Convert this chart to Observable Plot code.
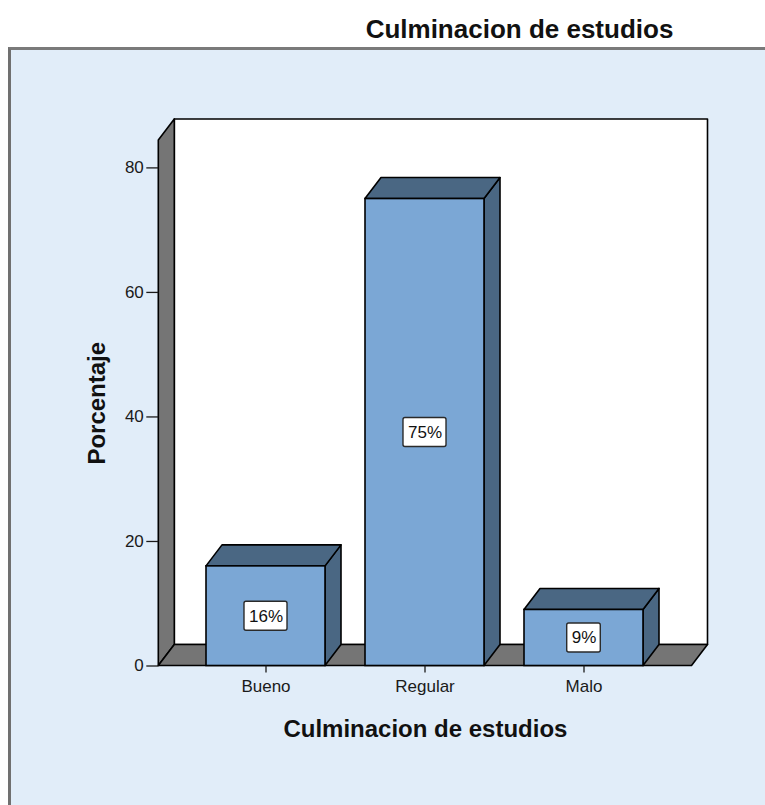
<!DOCTYPE html>
<html><head><meta charset="utf-8">
<script src="https://cdn.jsdelivr.net/npm/d3@7"></script>
<script src="https://cdn.jsdelivr.net/npm/@observablehq/plot@0.6"></script>
<style>
body{margin:0;background:#fff;width:765px;height:805px;overflow:hidden;position:relative;font-family:"Liberation Sans",Arial,sans-serif;}
#title{position:absolute;left:0;top:14px;width:1039px;text-align:center;font-weight:bold;font-size:26px;line-height:30px;color:#111;}
#panel{position:absolute;left:8px;top:47px;width:754px;height:755px;background:#e1edf9;border-left:3px solid #707070;border-top:3px solid #7a7a7a;}
</style></head><body>
<div id="title">Culminacion de estudios</div>
<div id="panel"></div>
<script>
// ---- data ----
const categories = ["Bueno", "Regular", "Malo"];
const percentages = [16, 75, 9];
const valueLabels = ["16%", "75%", "9%"];
const yTicks = [0, 20, 40, 60, 80];
const yMax = 84.4;
const xTitle = "Culminacion de estudios";
const yTitle = "Porcentaje";

const data = categories.map((c, i) => ({cat: c, value: percentages[i], label: valueLabels[i]}));

// ---- style ----
const DX = 16, DY = -21;
const FONT = '"Liberation Sans", Arial, sans-serif';
const FRONT = "#7ba7d5", DARK = "#4a6783", GRAY = "#757575";
const SW = 1.6;

function pts(a) { return a.map(p => p.join(",")).join(" "); }

function walls(index, scales) {
  const {x, y} = scales;
  const [x0, x1] = x.range();
  const yb = y(0), yt = y(yMax);
  const g = d3.create("svg:g").attr("stroke", "#000").attr("stroke-width", SW).attr("stroke-linejoin", "round");
  g.append("rect").attr("x", x0 + DX).attr("y", yt + DY).attr("width", x1 - x0).attr("height", yb - yt).attr("fill", "#fff");
  g.append("polygon").attr("points", pts([[x0, yt], [x0 + DX, yt + DY], [x0 + DX, yb + DY], [x0, yb]])).attr("fill", GRAY);
  g.append("polygon").attr("points", pts([[x0, yb], [x0 + DX, yb + DY], [x1 + DX, yb + DY], [x1, yb]])).attr("fill", GRAY);
  return g.node();
}

function barDepth(index, scales) {
  const {x, y} = scales;
  const bw = x.bandwidth();
  const g = d3.create("svg:g").attr("stroke", "#000").attr("stroke-width", SW).attr("stroke-linejoin", "round").attr("fill", DARK);
  const y0 = y(0);
  for (const d of data) {
    const xl = x(d.cat), xr = xl + bw, yv = y(d.value);
    g.append("polygon").attr("points", pts([[xr, yv], [xr + DX, yv + DY], [xr + DX, y0 + DY], [xr, y0]]));
    g.append("polygon").attr("points", pts([[xl, yv], [xl + DX, yv + DY], [xr + DX, yv + DY], [xr, yv]]));
  }
  return g.node();
}

const ctx = document.createElement("canvas").getContext("2d");
ctx.font = "17px " + FONT;
function labelBoxes(index, scales) {
  const {x, y} = scales;
  const bw = x.bandwidth();
  const g = d3.create("svg:g").attr("stroke", "#2a2a2a").attr("stroke-width", 1.4).attr("fill", "#fff");
  for (const d of data) {
    const w = ctx.measureText(d.label).width + 9;
    const h = 29;
    const cx = x(d.cat) + bw / 2, cy = y(d.value / 2);
    g.append("rect").attr("x", cx - w / 2).attr("y", cy - h / 2).attr("width", w).attr("height", h).attr("rx", 2);
  }
  return g.node();
}

const chart = Plot.plot({
  width: 754,
  height: 755,
  marginLeft: 147.3,
  marginRight: 73.5,
  marginTop: 90,
  marginBottom: 139.5,
  style: {fontFamily: FONT, background: "transparent", color: "#1a1a1a", overflow: "visible"},
  x: {domain: categories, paddingInner: 0.2486, paddingOuter: 0.294, axis: null},
  y: {domain: [0, yMax], axis: null},
  marks: [
    walls,
    barDepth,
    Plot.barY(data, {x: "cat", y: "value", fill: FRONT, stroke: "#000", strokeWidth: SW, inset: 0}),
    labelBoxes,
    Plot.text(data, {x: "cat", y: d => d.value / 2, text: "label", fontSize: 17, fill: "#111"}),
    Plot.axisY(yTicks, {tickSize: 12, tickPadding: 3, fontSize: 17, label: null, strokeWidth: 1.3}),
    Plot.axisX({tickSize: 7, tickPadding: 7, fontSize: 17, label: null, strokeWidth: 1.3}),
    Plot.text([yTitle], {text: d => d, frameAnchor: "left", dx: -61, rotate: -90, textAnchor: "middle", lineAnchor: "middle", fontSize: 24, fontWeight: "bold", fill: "#111"}),
    Plot.text([xTitle], {text: d => d, frameAnchor: "bottom", dy: 63.5, textAnchor: "middle", lineAnchor: "middle", fontSize: 24, fontWeight: "bold", fill: "#111"})
  ]
});
document.getElementById("panel").appendChild(chart);
</script>
</body></html>
